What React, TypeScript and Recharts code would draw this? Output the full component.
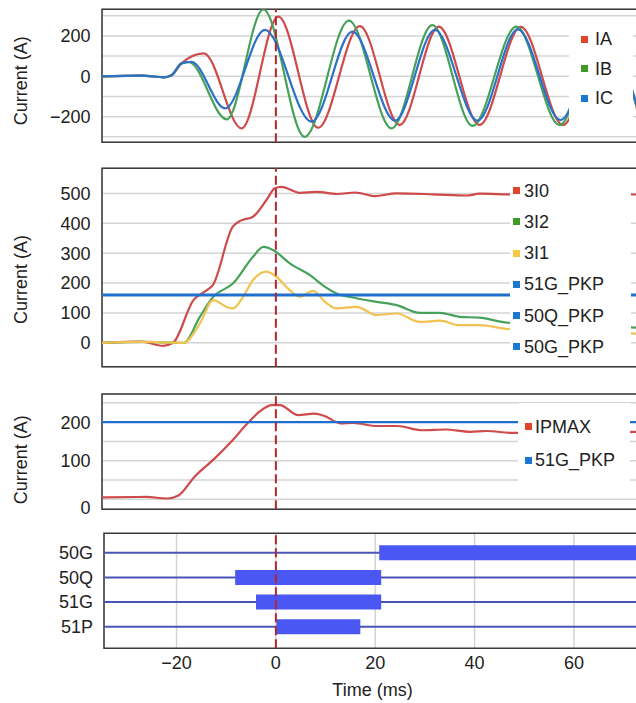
import React from 'react';
import {
  LineChart,
  Line,
  XAxis,
  YAxis,
  CartesianGrid,
  ReferenceLine,
  ReferenceArea,
  Legend,
} from 'recharts';

const FONT = '"Liberation Sans", Arial, Helvetica, sans-serif';

// ---------- Panel 1: phase currents (A) vs time (ms) ----------
const iaData = [
  { t: -35, v: 0 }, { t: -27, v: 3 }, { t: -22.5, v: -5 }, { t: -21, v: 5 },
  { t: -19, v: 64 }, { t: -14.5, v: 114 }, { t: -6.9, v: -258 }, { t: 0.5, v: 296 },
  { t: 8.5, v: -255 }, { t: 16.9, v: 249 }, { t: 24.9, v: -241 }, { t: 32.8, v: 246 },
  { t: 41, v: -241 }, { t: 49.3, v: 245 }, { t: 57.8, v: -241 }, { t: 66, v: 240 },
  { t: 73.5, v: -235 },
];
const ibData = [
  { t: -35, v: 0 }, { t: -27, v: 3 }, { t: -22.5, v: -5 }, { t: -21, v: 5 },
  { t: -19, v: 64 }, { t: -17.5, v: 70 }, { t: -9.9, v: -213 }, { t: -2.5, v: 332 },
  { t: 5.8, v: -300 }, { t: 14.7, v: 276 }, { t: 23.3, v: -258 }, { t: 31.5, v: 254 },
  { t: 39.6, v: -246 }, { t: 48.4, v: 246 }, { t: 57.1, v: -241 }, { t: 65.5, v: 240 },
  { t: 73.5, v: -225 },
];
const icData = [
  { t: -35, v: 0 }, { t: -27, v: 3 }, { t: -22.5, v: -5 }, { t: -21, v: 5 },
  { t: -19, v: 64 }, { t: -17, v: 72 }, { t: -10.2, v: -159 }, { t: -2.2, v: 230 },
  { t: 7.2, v: -225 }, { t: 15.4, v: 221 }, { t: 24, v: -220 }, { t: 32, v: 230 },
  { t: 40.6, v: -220 }, { t: 48.7, v: 233 }, { t: 57.3, v: -217 }, { t: 65.6, v: 225 },
  { t: 73.5, v: -212 },
];

// ---------- Panel 2: sequence currents ----------
const i30Data = [
  { t: -35, v: 0 }, { t: -27, v: 4 }, { t: -22.7, v: -10 }, { t: -20.7, v: 0 },
  { t: -16.6, v: 143 }, { t: -13.9, v: 176 }, { t: -12.7, v: 193 }, { t: -8.7, v: 388 },
  { t: -7.2, v: 408 }, { t: -4.6, v: 422 }, { t: -1.9, v: 478 }, { t: -0.2, v: 517 },
  { t: 1.1, v: 522 }, { t: 4.8, v: 502 }, { t: 8.2, v: 505 }, { t: 12.3, v: 498 },
  { t: 16, v: 503 }, { t: 19.9, v: 491 }, { t: 24.3, v: 500 }, { t: 31.6, v: 497 },
  { t: 38.4, v: 493 }, { t: 41, v: 499 }, { t: 46.5, v: 497 }, { t: 55, v: 495 },
  { t: 62, v: 498 }, { t: 73.5, v: 496 },
];
const i32Data = [
  { t: -35, v: 0 }, { t: -27, v: 3 }, { t: -18.5, v: 0 }, { t: -15.3, v: 87 },
  { t: -12.6, v: 154 }, { t: -8.6, v: 199 }, { t: -4.6, v: 288 }, { t: -2.5, v: 321 },
  { t: -0.5, v: 310 }, { t: 2.8, v: 266 }, { t: 6.8, v: 227 }, { t: 9.9, v: 187 },
  { t: 12.2, v: 165 }, { t: 16, v: 150 }, { t: 20.3, v: 137 }, { t: 24.3, v: 126 },
  { t: 29, v: 100 }, { t: 33, v: 100 }, { t: 37, v: 87 }, { t: 41, v: 84 },
  { t: 46.7, v: 67 }, { t: 60, v: 60 }, { t: 73.5, v: 50 },
];
const i31Data = [
  { t: -35, v: 0 }, { t: -27, v: 3 }, { t: -18.5, v: 0 }, { t: -15.3, v: 65 },
  { t: -12.6, v: 143 }, { t: -9.9, v: 120 }, { t: -8.6, v: 115 }, { t: -6.6, v: 154 },
  { t: -4.6, v: 210 }, { t: -1.9, v: 238 }, { t: 0.1, v: 221 }, { t: 2.8, v: 176 },
  { t: 4.8, v: 154 }, { t: 7.5, v: 174 }, { t: 9.9, v: 137 }, { t: 12.2, v: 115 },
  { t: 16.2, v: 120 }, { t: 20.3, v: 93 }, { t: 24.3, v: 98 }, { t: 29, v: 70 },
  { t: 33, v: 74 }, { t: 37, v: 59 }, { t: 41, v: 59 }, { t: 46.7, v: 46 },
  { t: 60, v: 38 }, { t: 73.5, v: 30 },
];
const pkp51GSeqData = [{ t: -35, v: 160 }, { t: 73.5, v: 160 }];

// ---------- Panel 3: IPMAX ----------
const ipmaxData = [
  { t: -35, v: 5 }, { t: -26, v: 6 }, { t: -22, v: 2 }, { t: -19.6, v: 10 },
  { t: -16.4, v: 58 }, { t: -12.3, v: 106 }, { t: -9, v: 149 }, { t: -5.7, v: 197 },
  { t: -3.3, v: 227 }, { t: -0.8, v: 244 }, { t: 0.8, v: 244 }, { t: 4.5, v: 218 },
  { t: 7.7, v: 222 }, { t: 9.8, v: 216 }, { t: 13, v: 197 }, { t: 15.5, v: 198 },
  { t: 20.4, v: 190 }, { t: 24.5, v: 190 }, { t: 29.4, v: 179 }, { t: 34.2, v: 181 },
  { t: 39.1, v: 175 }, { t: 42.4, v: 177 }, { t: 47.7, v: 172 }, { t: 60, v: 172 },
  { t: 73.5, v: 175 },
];
const pkp51GData = [{ t: -35, v: 200 }, { t: 73.5, v: 200 }];

// ---------- Panel 4: element pickups (row index, start/end ms) ----------
const rowNames = ['51P', '51G', '50Q', '50G'];
const rowValues = [1, 2, 3, 4];
const pu51PData = [{ t: 0.1, v: 1 }, { t: 17.0, v: 1 }];
const pu51GData = [{ t: -4.0, v: 2 }, { t: 21.2, v: 2 }];
const pu50QData = [{ t: -8.2, v: 3 }, { t: 21.2, v: 3 }];
const pu50GData = [{ t: 20.8, v: 4 }, { t: 73.5, v: 4 }];

// ---------- Ticks / labels ----------
const timeTicks = [-20, 0, 20, 40, 60];
const p1Ticks = [-300, -200, -100, 0, 100, 200, 300];
const p1Labels = [-200, 0, 200];
const p2Ticks = [0, 100, 200, 300, 400, 500];
const p3Ticks = [0, 50, 100, 150, 200, 250];
const p3Labels = [0, 100, 200];

const p1LegendNames = ['IA', 'IB', 'IC'];
const p1LegendColors = ['#e0452a', '#3e9a22', '#1a78d0'];
const p2LegendNames = ['3I0', '3I2', '3I1', '51G_PKP', '50Q_PKP', '50G_PKP'];
const p2LegendColors = ['#e0452a', '#3e9a22', '#f5c842', '#1a78d0', '#1a78d0', '#1a78d0'];
const p3LegendNames = ['IPMAX', '51G_PKP'];
const p3LegendColors = ['#e0452a', '#1a78d0'];

const fmt = (v: number) => (v < 0 ? '\u2212' + Math.abs(v) : String(v));

const C_RED = '#cf4a4a';
const C_GREEN = '#46a25a';
const C_BLUE = '#2c70c8';
const C_YELLOW = '#f0c250';
const C_PKP = '#1f6fd0';
const GRID = '#d4d4d4';
const FRAME = '#3a3a3a';
const DASH = '#b0282a';

const makeYTick = (labels: number[], zeroShift = 0) => (props: any) => {
  const { x, y, payload } = props;
  const v = payload.value;
  if (!labels.includes(v)) return <g />;
  return (
    <text x={x} y={y + (v === 0 ? zeroShift : 0)} dy="0.355em" textAnchor="end" fill="#222" fontSize={18} fontFamily={FONT}>
      {fmt(v)}
    </text>
  );
};

const rowTick = (props: any) => {
  const { x, y, payload } = props;
  const idx = rowValues.indexOf(payload.value);
  return (
    <text x={x} y={y} dy="0.355em" textAnchor="end" fill="#222" fontSize={18} fontFamily={FONT}>
      {rowNames[idx]}
    </text>
  );
};

const xTick = (props: any) => {
  const { x, y, payload } = props;
  return (
    <text x={x} y={y} dy="0.71em" textAnchor="middle" fill="#222" fontSize={18} fontFamily={FONT}>
      {fmt(payload.value)}
    </text>
  );
};

const currentLabel = (shift: number) => ({
  content: (p: any) => {
    const vb = p.viewBox || { x: 0, y: 0, width: 0, height: 0 };
    const cx = 21;
    const cy = vb.y + vb.height / 2 + shift;
    return (
      <text x={cx} y={cy} dy="0.355em" textAnchor="middle" transform={`rotate(-90 ${cx} ${cy})`} fill="#222" fontSize={18} fontFamily={FONT}>
        Current (A)
      </text>
    );
  },
});

function LegendBox({ names, colors, width, height, firstY, gap, markerX, textX }: any) {
  return (
    <div style={{ position: 'relative', width, height, background: '#fff', fontFamily: FONT, fontSize: 18, color: '#222' }}>
      {names.map((n: string, i: number) => (
        <div key={n} style={{ position: 'absolute', left: 0, top: firstY + i * gap - 10, height: 20, width }}>
          <span style={{ position: 'absolute', left: markerX, top: 6.5, width: 7, height: 7, background: colors[i] }} />
          <span style={{ position: 'absolute', left: textX, top: 0, lineHeight: '20px', whiteSpace: 'nowrap' }}>{n}</span>
        </div>
      ))}
    </div>
  );
}

const CH_W = 660;
const X_DOMAIN: [number, number] = [-35, 73.5];
const X_DOMAIN4: [number, number] = [-34.6, 73.5];

function HiddenX({ domain }: { domain: [number, number] }) {
  return null;
}

export default function App() {
  const lineCommon = { dot: false, activeDot: false, isAnimationActive: false, type: 'monotone' as const, dataKey: 'v' };
  return (
    <div style={{ position: 'absolute', left: 0, top: 0, width: 636, height: 703, overflow: 'hidden', background: '#fff' }}>
      {/* Panel 1 */}
      <div style={{ position: 'absolute', left: 0, top: 0 }}>
        <LineChart width={CH_W} height={150} margin={{ top: 9.3, right: 19, bottom: 7.7, left: 0 }}>
          <CartesianGrid stroke={GRID} strokeWidth={1.5} />
          <XAxis type="number" dataKey="t" domain={X_DOMAIN} ticks={timeTicks} interval={0} allowDataOverflow height={0} tick={false} tickLine={false} axisLine={false} />
          <YAxis type="number" domain={[-327, 332]} ticks={p1Ticks} interval={0} allowDataOverflow width={102} tickSize={0} tickMargin={11.5} axisLine={false} tickLine={false} tick={makeYTick(p1Labels)} label={currentLabel(5)} />
          <Line {...lineCommon} data={iaData} stroke={C_RED} strokeWidth={2.2} />
          <Line {...lineCommon} data={ibData} stroke={C_GREEN} strokeWidth={2.2} />
          <Line {...lineCommon} data={icData} stroke={C_BLUE} strokeWidth={2.2} />
          <ReferenceLine x={0} stroke={DASH} strokeWidth={2} strokeDasharray="9 4" />
          <ReferenceArea x1={X_DOMAIN[0]} x2={X_DOMAIN[1]} y1={-327} y2={332} fill="none" stroke={FRAME} strokeWidth={1.5} />
          <Legend layout="horizontal" verticalAlign="middle" align="center"
            wrapperStyle={{ left: 569, top: 17, width: 64, height: 108, margin: 0, padding: 0 }}
            content={() => <LegendBox names={p1LegendNames} colors={p1LegendColors} width={64} height={108} firstY={22} gap={29.5} markerX={12} textX={26} />} />
        </LineChart>
      </div>

      {/* Panel 2 */}
      <div style={{ position: 'absolute', left: 0, top: 150 }}>
        <LineChart width={CH_W} height={230} margin={{ top: 18.3, right: 19, bottom: 13.3, left: 0 }}>
          <CartesianGrid stroke={GRID} strokeWidth={1.5} />
          <XAxis type="number" dataKey="t" domain={X_DOMAIN} ticks={timeTicks} interval={0} allowDataOverflow height={0} tick={false} tickLine={false} axisLine={false} />
          <YAxis type="number" domain={[-80, 584]} ticks={p2Ticks} interval={0} allowDataOverflow width={102} tickSize={0} tickMargin={11.5} axisLine={false} tickLine={false} tick={makeYTick(p2Ticks)} label={currentLabel(12)} />
          <Line {...lineCommon} data={i30Data} stroke={C_RED} strokeWidth={2.2} />
          <Line {...lineCommon} data={i32Data} stroke={C_GREEN} strokeWidth={2.2} />
          <Line {...lineCommon} data={i31Data} stroke={C_YELLOW} strokeWidth={2.2} />
          <Line {...lineCommon} type="linear" data={pkp51GSeqData} stroke={C_PKP} strokeWidth={3} />
          <ReferenceLine x={0} stroke={DASH} strokeWidth={2} strokeDasharray="9 4" />
          <ReferenceArea x1={X_DOMAIN[0]} x2={X_DOMAIN[1]} y1={-80} y2={584} fill="none" stroke={FRAME} strokeWidth={1.5} />
          <Legend layout="horizontal" verticalAlign="middle" align="center"
            wrapperStyle={{ left: 510, top: 20, width: 121, height: 196, margin: 0, padding: 0 }}
            content={() => <LegendBox names={p2LegendNames} colors={p2LegendColors} width={121} height={196} firstY={20.7} gap={31.2} markerX={3} textX={14} />} />
        </LineChart>
      </div>

      {/* Panel 3 */}
      <div style={{ position: 'absolute', left: 0, top: 380 }}>
        <LineChart width={CH_W} height={140} margin={{ top: 14, right: 19, bottom: 10.7, left: 0 }}>
          <CartesianGrid stroke={GRID} strokeWidth={1.5} />
          <XAxis type="number" dataKey="t" domain={X_DOMAIN} ticks={timeTicks} interval={0} allowDataOverflow height={0} tick={false} tickLine={false} axisLine={false} />
          <YAxis type="number" domain={[-26, 273]} ticks={p3Ticks} interval={0} allowDataOverflow width={102} tickSize={0} tickMargin={11.5} axisLine={false} tickLine={false} tick={makeYTick(p3Labels, 8)} label={currentLabel(8)} />
          <Line {...lineCommon} data={ipmaxData} stroke={C_RED} strokeWidth={2.2} />
          <Line {...lineCommon} type="linear" data={pkp51GData} stroke={C_PKP} strokeWidth={2.2} />
          <ReferenceLine x={0} stroke={DASH} strokeWidth={2} strokeDasharray="9 4" />
          <ReferenceArea x1={X_DOMAIN[0]} x2={X_DOMAIN[1]} y1={-26} y2={273} fill="none" stroke={FRAME} strokeWidth={1.5} />
          <Legend layout="horizontal" verticalAlign="middle" align="center"
            wrapperStyle={{ left: 518, top: 23, width: 112, height: 80, margin: 0, padding: 0 }}
            content={() => <LegendBox names={p3LegendNames} colors={p3LegendColors} width={112} height={80} firstY={23.7} gap={33.3} markerX={7} textX={17} />} />
        </LineChart>
      </div>

      {/* Panel 4 */}
      <div style={{ position: 'absolute', left: 0, top: 520 }}>
        <LineChart width={CH_W} height={183} margin={{ top: 13.3, right: 19, bottom: 0, left: 0 }}>
          <CartesianGrid stroke={GRID} strokeWidth={1.5} horizontal={false} />
          <XAxis type="number" dataKey="t" domain={X_DOMAIN4} ticks={timeTicks} interval={0} allowDataOverflow height={54.7} tickSize={0} tickMargin={8} tickLine={false} axisLine={false} tick={xTick}
            label={{
              content: (p: any) => {
                const vb = p.viewBox || { x: 104, y: 648, width: 537, height: 55 };
                return (
                  <text x={vb.x + vb.width / 2} y={vb.y + 48} textAnchor="middle" fill="#222" fontSize={18} fontFamily={FONT}>
                    Time (ms)
                  </text>
                );
              },
            }} />
          <YAxis type="number" domain={[0.12, 4.79]} ticks={rowValues} interval={0} allowDataOverflow width={104} tickSize={0} tickMargin={11} axisLine={false} tickLine={false} tick={rowTick} />
          {rowValues.map((r) => (
            <ReferenceLine key={r} y={r} stroke="#4a54b8" strokeWidth={2} />
          ))}
          <Line dot={false} activeDot={false} isAnimationActive={false} type="linear" dataKey="v" data={pu51PData} stroke="#4b57f2" strokeWidth={15} />
          <Line dot={false} activeDot={false} isAnimationActive={false} type="linear" dataKey="v" data={pu51GData} stroke="#4b57f2" strokeWidth={15} />
          <Line dot={false} activeDot={false} isAnimationActive={false} type="linear" dataKey="v" data={pu50QData} stroke="#4b57f2" strokeWidth={15} />
          <Line dot={false} activeDot={false} isAnimationActive={false} type="linear" dataKey="v" data={pu50GData} stroke="#4b57f2" strokeWidth={15} />
          <ReferenceLine x={0} stroke={DASH} strokeWidth={2} strokeDasharray="9 4" />
          <ReferenceArea x1={X_DOMAIN4[0]} x2={X_DOMAIN4[1]} y1={0.12} y2={4.79} fill="none" stroke={FRAME} strokeWidth={1.5} />
        </LineChart>
      </div>
    </div>
  );
}
